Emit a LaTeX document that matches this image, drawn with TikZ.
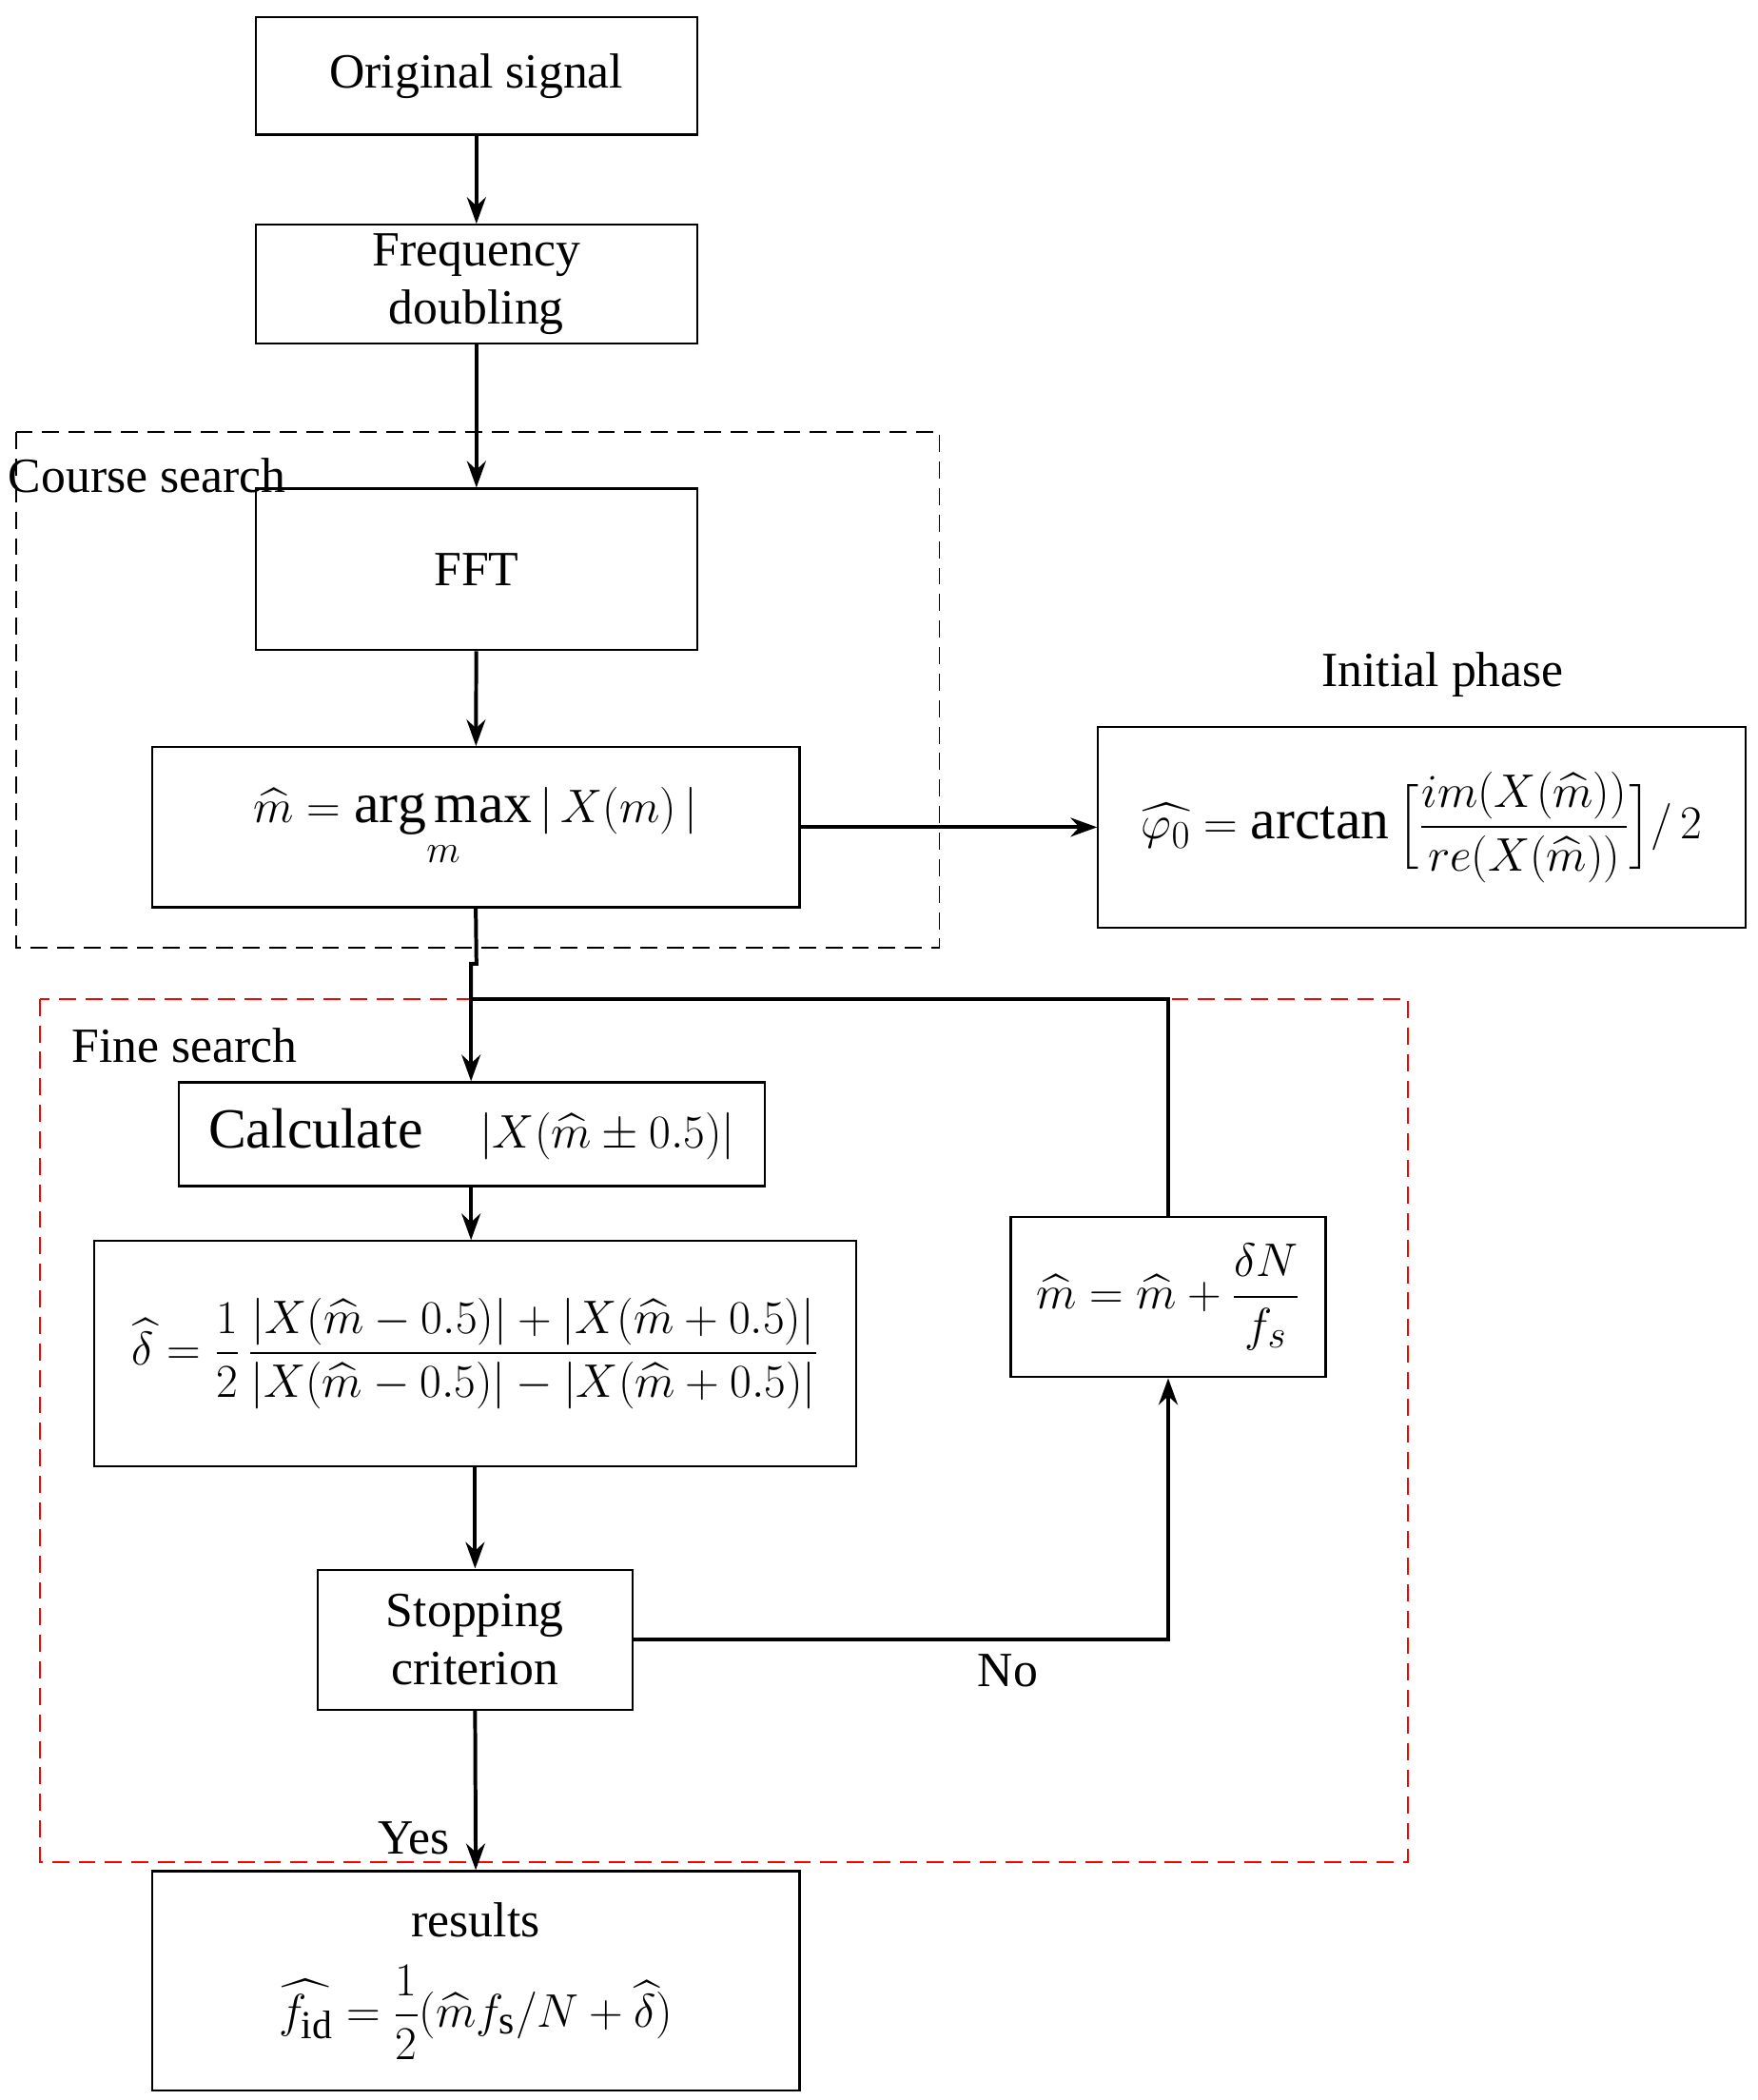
\documentclass[tikz,border=0pt]{standalone}
\usepackage{fontspec}
\usepackage{amsmath}
\setmainfont{Liberation Serif}
\usetikzlibrary{arrows.meta}
\begin{document}
\fontsize{26}{31}\selectfont
\begin{tikzpicture}[x=0.025cm,y=-0.025cm,
  box/.style={draw,line width=1.1pt,inner sep=0pt,align=center,font=\fontsize{26}{31}\selectfont},
  mbox/.style={box,font=\fontsize{30}{36}\selectfont},
  arr/.style={line width=2pt,-{Stealth[length=14pt,width=10pt]}},
  ln/.style={line width=2pt}]
\useasboundingbox (0,0) rectangle (1306,1560);
\node[box,minimum width=8.2cm,minimum height=2.175cm] (orig) at (354,56.5) {Original signal};
\node[box,minimum width=8.2cm,minimum height=2.2cm] (freq) at (354,211) {Frequency\\doubling};
\node[box,minimum width=8.2cm,minimum height=3.0cm] (fft) at (354,423) {FFT};
\node[mbox,minimum width=12.025cm,minimum height=2.975cm] (arg) at (353.5,614.5)
  {$\displaystyle \widehat{m}=\mathop{\arg\max}_{m}|\,X(m)\,|$};
\node[mbox,minimum width=12.025cm,minimum height=3.725cm] (phase) at (1056.5,614.5)
  {$\displaystyle \widehat{\varphi_0}=\arctan\Big[\frac{im(X(\widehat{m}))}{re(X(\widehat{m}))}\Big]/\,2$};
\node[anchor=south] (phlab) at (1072,530) {Initial phase};
\node[mbox,minimum width=10.875cm,minimum height=1.925cm] (calc) at (350.5,842.5)
  {Calculate\quad $\left|X(\widehat{m}\pm0.5)\right|$};
\node[mbox,minimum width=14.15cm,minimum height=4.175cm] (delta) at (353,1005.5)
  {$\displaystyle \widehat{\delta}=\frac12\,\frac{\left|X(\widehat{m}-0.5)\right|+\left|X(\widehat{m}+0.5)\right|}{\left|X(\widehat{m}-0.5)\right|-\left|X(\widehat{m}+0.5)\right|}$};
\node[mbox,minimum width=5.85cm,minimum height=2.975cm] (mup) at (868,963.5)
  {$\displaystyle \widehat{m}=\widehat{m}+\frac{\delta N}{f_s}$};
\node[box,minimum width=5.85cm,minimum height=2.6cm] (stop) at (353,1218) {Stopping\\criterion};
\node[mbox,minimum width=12.025cm,minimum height=4.075cm] (res) at (353.5,1471.5)
  {{\fontsize{26}{31}\selectfont results}\\[12pt] $\displaystyle \widehat{f_{\mathrm{id}}}=\frac12(\widehat{m}f_{\mathrm{s}}/N+\widehat{\delta})$};
% dashed regions
\draw[dashed,line width=1pt,dash pattern=on 9pt off 5pt] (12,321) rectangle (698,704);
\node[anchor=west,inner sep=0pt] (cs) at (6,353) {Course search};
\draw[red,dashed,line width=1pt,dash pattern=on 9pt off 5pt] (30,742) rectangle (1046,1383);
\node[anchor=west,inner sep=0pt] (fs) at (53,777) {Fine search};
% connectors
\draw[arr] (orig) -- (freq);
\draw[arr] (freq) -- (fft);
\draw[arr] (fft) -- (arg);
\draw[arr] (arg.east) -- (phase.west);
\coordinate (j1) at (354,716);
\coordinate (j2) at (350,716);
\coordinate (j3) at (350,742);
\draw[ln] (arg.south) -- (j1) -- (j2) -- (j3);
\draw[arr] (j3) -- (calc.north -| j3);
\draw[ln] (mup.north) |- (j3);
\draw[arr] (calc.south -| j3) -- (delta.north -| j3);
\draw[arr] (delta.south -| stop) -- (stop.north);
\draw[arr] (stop.east) -| node[pos=0.35,below=-2pt] {No} (mup.south);
\draw[arr] (stop.south) -- node[pos=0.8,left=4pt] {Yes} (res.north);
\end{tikzpicture}
\end{document}
